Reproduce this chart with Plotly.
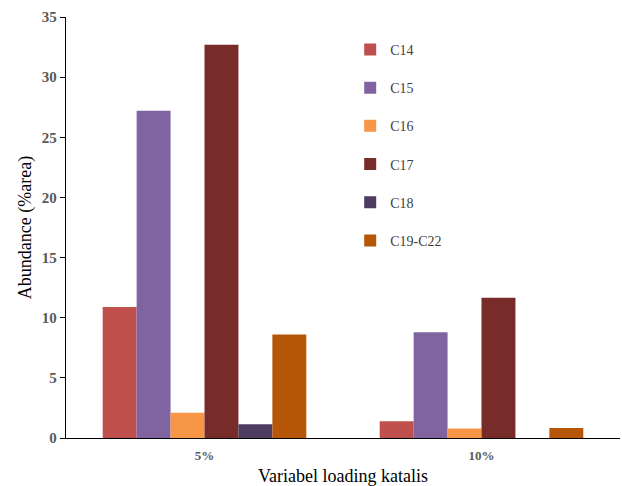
import plotly.graph_objects as go

# Catalyst loading levels on the x axis
categories = ["5%", "10%"]

# Abundance (% area) of each hydrocarbon fraction per loading level
series_names = ["C14", "C15", "C16", "C17", "C18", "C19-C22"]
c14 = [10.9, 1.4]
c15 = [27.2, 8.8]
c16 = [2.1, 0.8]
c17 = [32.7, 11.65]
c18 = [1.15, 0.0]
c19_c22 = [8.6, 0.83]
series_values = [c14, c15, c16, c17, c18, c19_c22]

colors = ["#C0504D", "#8064A2", "#F79646", "#772C2A", "#4D3B62", "#B65708"]

serif = "Liberation Serif"

fig = go.Figure()
for name, vals, col in zip(series_names, series_values, colors):
    fig.add_trace(go.Bar(
        name=name, x=categories, y=vals,
        marker=dict(color=col, line=dict(width=0)),
        legendgroup=name,
    ))

fig.update_layout(
    width=622, height=486,
    margin=dict(l=66, r=2, t=17, b=48),
    paper_bgcolor="white", plot_bgcolor="white",
    barmode="group", bargap=0.265, bargroupgap=0,
    font=dict(family=serif, color="#595959"),
    showlegend=True,
    legend=dict(
        x=0.513, y=0.96, xanchor="left", yanchor="top",
        bgcolor="rgba(0,0,0,0)",
        font=dict(family=serif, size=14, color="#404040"),
        tracegroupgap=17, traceorder="grouped",
    ),
    xaxis=dict(
        showline=True, linecolor="black", linewidth=1.3,
        ticks="", showgrid=False, ticklabelstandoff=5,
        tickfont=dict(family=serif, size=13, color="#595959", weight="bold"),
        title=dict(text="Variabel loading katalis", standoff=10,
                   font=dict(family=serif, size=18, color="black")),
    ),
    yaxis=dict(
        range=[0, 35], dtick=5, showgrid=False, zeroline=False,
        showline=True, linecolor="black", linewidth=1.3,
        ticks="outside", ticklen=5, tickcolor="black",
        tickfont=dict(family=serif, size=15, color="#595959", weight="bold"),
        title=dict(text="Abundance (%area)", standoff=5,
                   font=dict(family=serif, size=18, color="black")),
    ),
)

fig.write_html("out.html")
